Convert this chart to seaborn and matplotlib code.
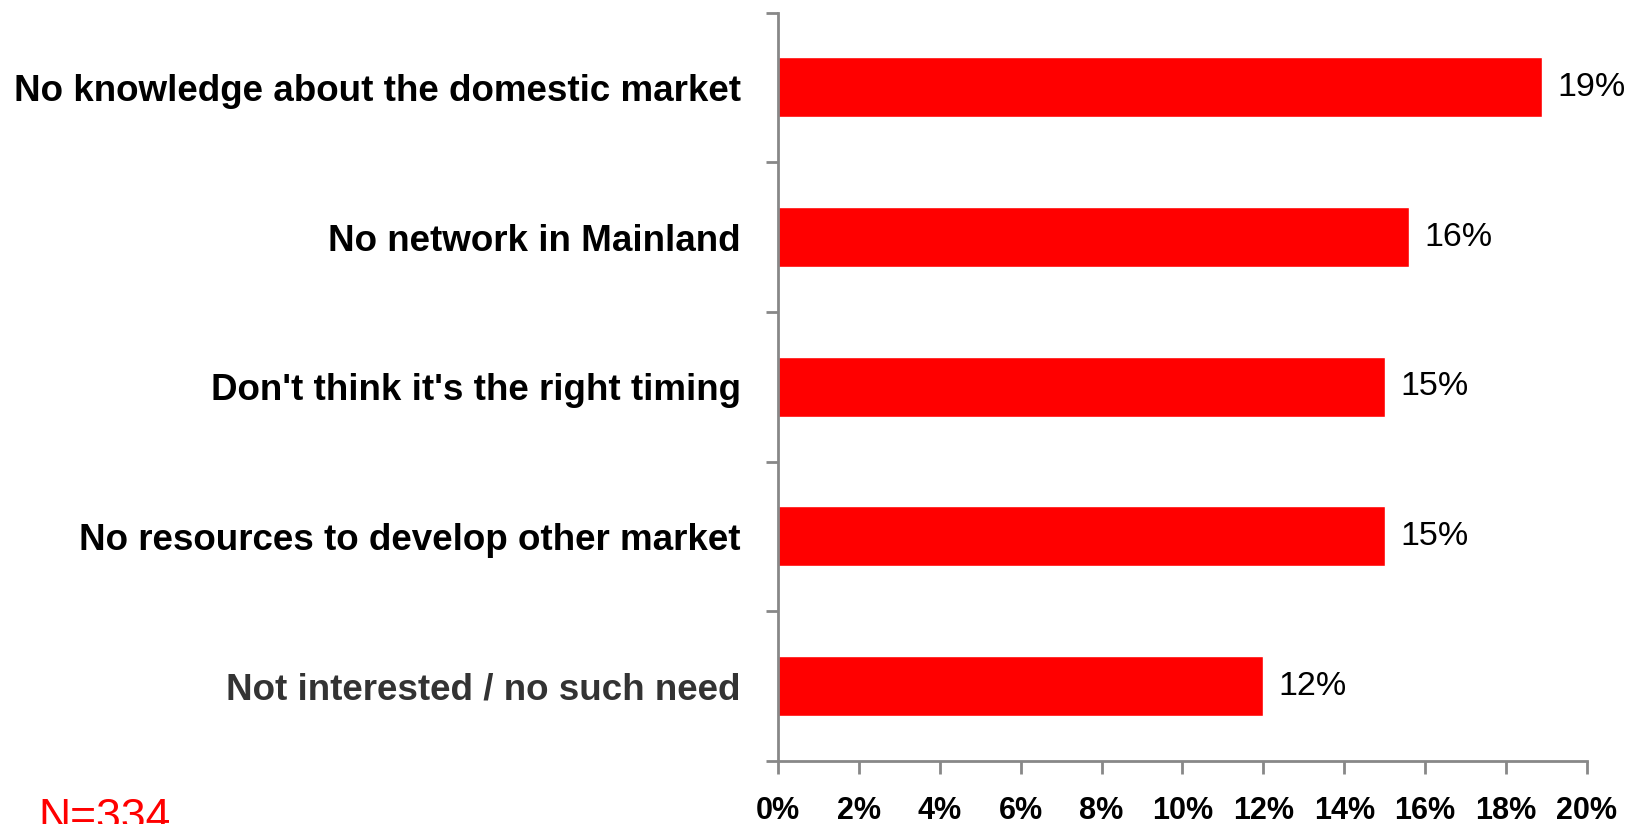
import matplotlib
matplotlib.use("Agg")
import matplotlib.pyplot as plt
import seaborn as sns
import pandas as pd
from matplotlib.ticker import FixedLocator, PercentFormatter

categories = [
    "No knowledge about the domestic market",
    "No network in Mainland",
    "Don't think it's the right timing",
    "No resources to develop other market",
    "Not interested / no such need",
]
values = [18.9, 15.6, 15.0, 15.0, 12.0]
value_labels = ["19%", "16%", "15%", "15%", "12%"]
label_colors = ["#000000", "#000000", "#000000", "#000000", "#333333"]
x_ticks = [0, 2, 4, 6, 8, 10, 12, 14, 16, 18, 20]
note = "N=334"

sns.set_theme(style="white")
plt.rcParams["font.family"] = ["Liberation Sans", "DejaVu Sans"]

df = pd.DataFrame({"category": categories, "value": values})

fig = plt.figure(figsize=(16.29, 8.24), dpi=100)
ax = fig.add_axes([0.4776, 0.0765, 0.9742 - 0.4776, 0.9848 - 0.0765])

sns.barplot(data=df, x="value", y="category", orient="h", color="#FF0000",
            saturation=1, width=0.4, ax=ax)

ax.set_xlim(0, 20)
ax.set_ylim(4.5, -0.5)
ax.set_xlabel("")
ax.set_ylabel("")

for s in ["top", "right"]:
    ax.spines[s].set_visible(False)
for s in ["left", "bottom"]:
    ax.spines[s].set_color("#888888")
    ax.spines[s].set_linewidth(2)

ax.set_xticks(x_ticks)
ax.xaxis.set_major_formatter(PercentFormatter(decimals=0))
ax.tick_params(axis="x", which="major", bottom=True, length=9, width=2,
               color="#888888", pad=16, labelsize=22, labelcolor="black")
for t in ax.get_xticklabels():
    t.set_fontweight("bold")

ax.yaxis.set_minor_locator(FixedLocator([i - 0.5 for i in range(len(categories) + 1)]))
ax.tick_params(axis="y", which="minor", left=True, length=9, width=2, color="#888888")
ax.tick_params(axis="y", which="major", left=True, length=0, pad=27, labelsize=26.5)
for t, c in zip(ax.get_yticklabels(), label_colors):
    t.set_fontweight("bold")
    t.set_color(c)

for i, (v, lab) in enumerate(zip(values, value_labels)):
    ax.annotate(lab, xy=(v, i), xytext=(11, 0), textcoords="offset points",
                va="center", ha="left", fontsize=24.5, color="black")

fig.text(38 / 1629, -0.007, note, color="#FF0000", fontsize=32, ha="left", va="baseline")

fig.savefig("out.png", dpi=100)
